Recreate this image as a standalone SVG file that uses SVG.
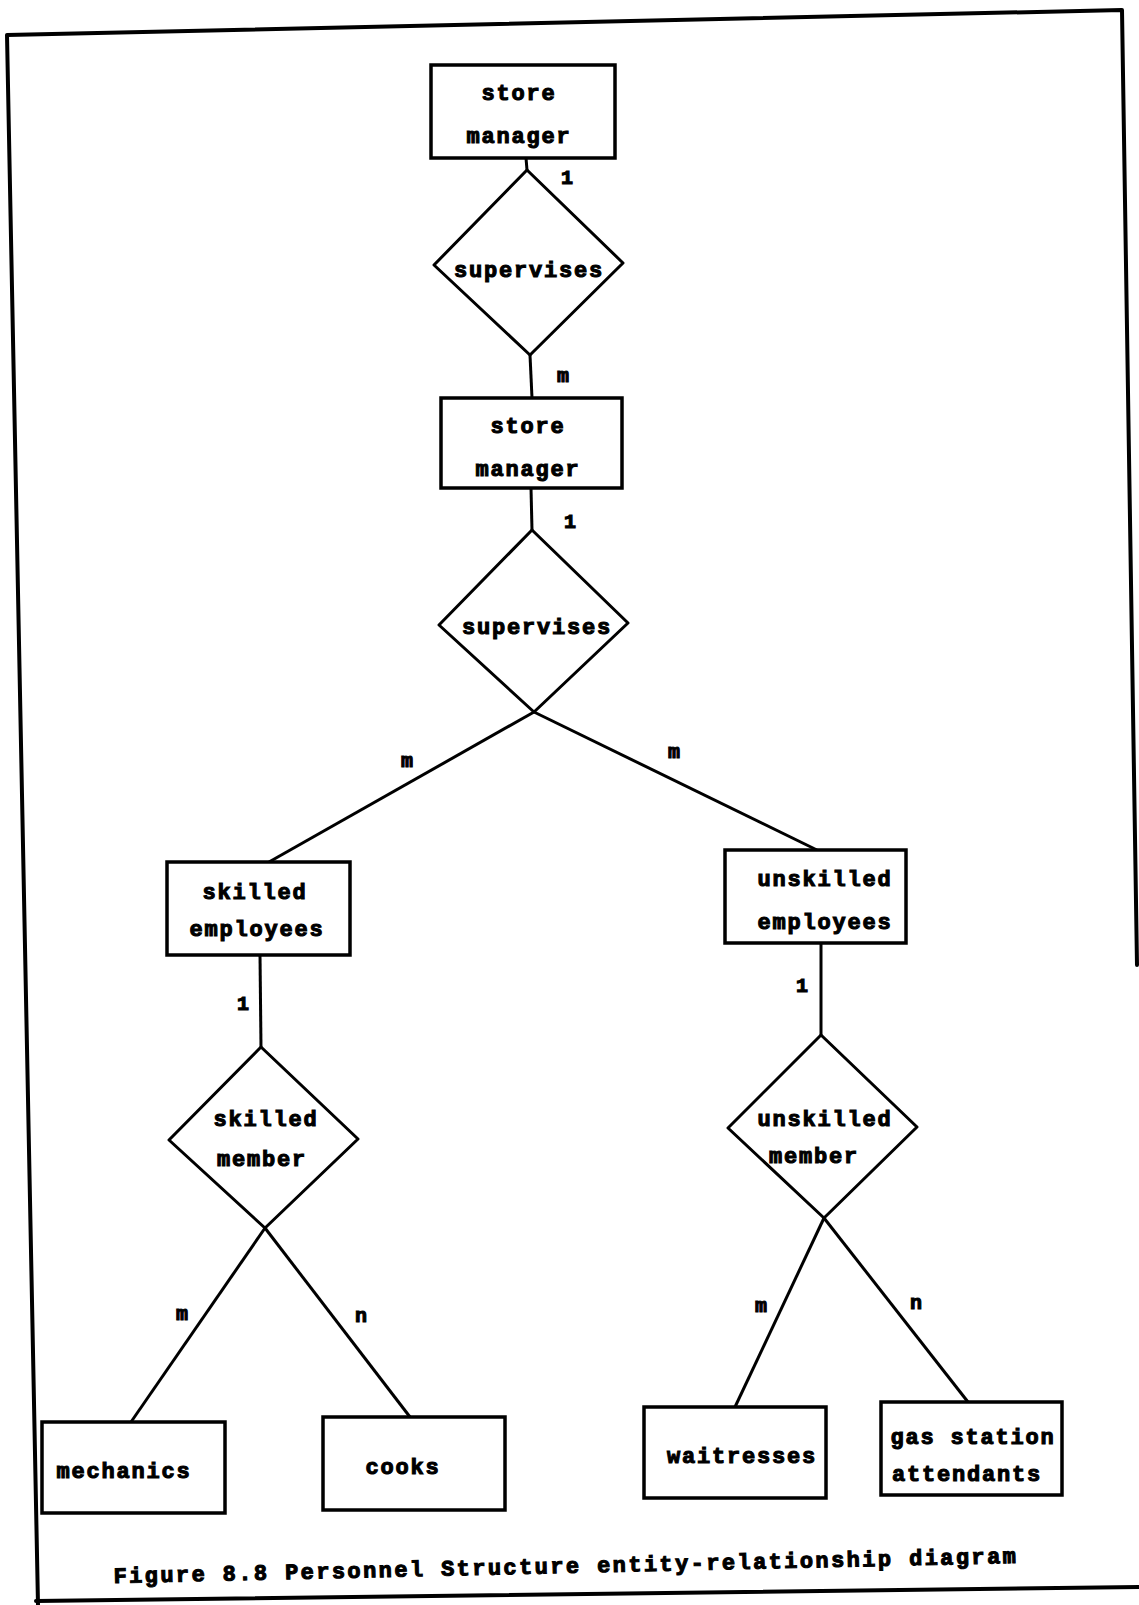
<svg xmlns="http://www.w3.org/2000/svg" width="1139" height="1605" viewBox="0 0 1139 1605">
<style>
.frame{fill:none;stroke:#000;stroke-width:4;stroke-linejoin:round;stroke-linecap:round}
.ent{fill:#fff;stroke:#000;stroke-width:3.5}
.rel{fill:#fff;stroke:#000;stroke-width:3;stroke-linejoin:round}
.con{fill:none;stroke:#000;stroke-width:3}
text{font-family:"Liberation Mono","DejaVu Sans Mono",monospace;font-weight:bold;font-size:22px;letter-spacing:1.8px;fill:#000;stroke:#000;stroke-width:1.1px;text-anchor:middle}
.lab{font-size:20px;letter-spacing:0}
.cap{letter-spacing:2.4px}
</style>
<rect width="1139" height="1605" fill="#fff"/>
<g id="frame">
<path class="frame" d="M1137,965 L1122,10 L7,35 L38,1605"/>
<path class="frame" d="M36,1601 L1139,1587"/>
</g>
<g id="connectors">
<line class="con" x1="526" y1="158" x2="527" y2="170"/>
<line class="con" x1="530" y1="355" x2="532" y2="398"/>
<line class="con" x1="531" y1="488" x2="532" y2="530"/>
<line class="con" x1="534" y1="712" x2="269" y2="862"/>
<line class="con" x1="534" y1="712" x2="817" y2="850"/>
<line class="con" x1="260" y1="955" x2="261" y2="1047"/>
<line class="con" x1="821" y1="943" x2="821" y2="1035"/>
<line class="con" x1="265" y1="1228" x2="131" y2="1422"/>
<line class="con" x1="265" y1="1228" x2="410" y2="1417"/>
<line class="con" x1="824" y1="1218" x2="735" y2="1407"/>
<line class="con" x1="824" y1="1218" x2="968" y2="1402"/>
<text class="lab" x="567" y="184">1</text>
<text class="lab" x="563" y="382">m</text>
<text class="lab" x="570" y="528">1</text>
<text class="lab" x="407" y="767">m</text>
<text class="lab" x="674" y="758">m</text>
<text class="lab" x="243" y="1010">1</text>
<text class="lab" x="802" y="992">1</text>
<text class="lab" x="182" y="1320">m</text>
<text class="lab" x="361" y="1322">n</text>
<text class="lab" x="761" y="1312">m</text>
<text class="lab" x="916" y="1309">n</text>
</g>
<g id="store-manager-1">
<rect class="ent" x="431" y="65" width="184" height="93"/>
<text x="519" y="100">store</text>
<text x="519" y="143">manager</text>
</g>
<g id="supervises-1">
<polygon class="rel" points="527,170 623,263 530,355 434,265"/>
<text x="529" y="277">supervises</text>
</g>
<g id="store-manager-2">
<rect class="ent" x="441" y="398" width="181" height="90"/>
<text x="528" y="433">store</text>
<text x="528" y="476">manager</text>
</g>
<g id="supervises-2">
<polygon class="rel" points="532,530 628,623 534,712 439,625"/>
<text x="537" y="634">supervises</text>
</g>
<g id="skilled-employees">
<rect class="ent" x="167" y="862" width="183" height="93"/>
<text x="255" y="899">skilled</text>
<text x="257" y="936">employees</text>
</g>
<g id="unskilled-employees">
<rect class="ent" x="725" y="850" width="181" height="93"/>
<text x="825" y="886">unskilled</text>
<text x="825" y="929">employees</text>
</g>
<g id="skilled-member">
<polygon class="rel" points="261,1047 358,1139 265,1228 169,1140"/>
<text x="266" y="1126">skilled</text>
<text x="262" y="1166">member</text>
</g>
<g id="unskilled-member">
<polygon class="rel" points="821,1035 917,1127 824,1218 728,1128"/>
<text x="825" y="1126">unskilled</text>
<text x="814" y="1163">member</text>
</g>
<g id="mechanics">
<rect class="ent" x="42" y="1422" width="183" height="91"/>
<text x="124" y="1478">mechanics</text>
</g>
<g id="cooks">
<rect class="ent" x="323" y="1417" width="182" height="93"/>
<text x="403" y="1474">cooks</text>
</g>
<g id="waitresses">
<rect class="ent" x="644" y="1407" width="182" height="91"/>
<text x="742" y="1463">waitresses</text>
</g>
<g id="gas-station-attendants">
<rect class="ent" x="881" y="1402" width="181" height="93"/>
<text x="973" y="1444">gas station</text>
<text x="967" y="1481">attendants</text>
</g>
<g id="caption">
<text class="cap" x="566" y="1573" transform="rotate(-1.28 566 1573)">Figure 8.8 Personnel Structure entity-relationship diagram</text>
</g>
</svg>
